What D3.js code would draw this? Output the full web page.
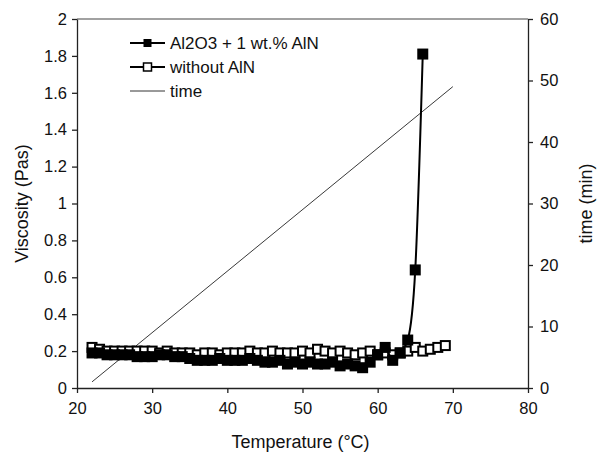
<!DOCTYPE html>
<html>
<head>
<meta charset="utf-8">
<script src="https://cdn.jsdelivr.net/npm/d3@7"></script>
<style>
	body { margin: 0; background: #fff; }
	text { font-family: 'Liberation Sans', Arial, sans-serif; fill: #111; }
	.axis path, .axis line { stroke: #222; stroke-width: 1.3; }
	.axis text { font-size: 16.5px; }
</style>
</head>
<body>
<div id="root"></div>
<script>
// Al2O3 + 1 wt.% AlN (filled squares)
const tempAlN	= [22, 23, 24, 25, 26, 27, 28, 29, 30, 31, 32, 33, 34, 35, 36, 37, 38, 39, 40, 41, 42, 43, 44, 45, 46, 47, 48, 49, 50, 51, 52, 53, 54, 55, 56, 57, 58, 59, 60, 61, 62, 63, 64, 65, 66];
const viscAlN	= [0.19, 0.19, 0.18, 0.18, 0.18, 0.18, 0.17, 0.17, 0.17, 0.18, 0.18, 0.17, 0.17, 0.16, 0.15, 0.15, 0.15, 0.16, 0.15, 0.15, 0.15, 0.16, 0.15, 0.14, 0.14, 0.15, 0.13, 0.14, 0.13, 0.14, 0.13, 0.13, 0.14, 0.12, 0.13, 0.12, 0.11, 0.14, 0.18, 0.22, 0.15, 0.19, 0.26, 0.64, 1.81];

// without AlN (open squares)
const tempPure	= [22, 23, 24, 25, 26, 27, 28, 29, 30, 31, 32, 33, 34, 35, 36, 37, 38, 39, 40, 41, 42, 43, 44, 45, 46, 47, 48, 49, 50, 51, 52, 53, 54, 55, 56, 57, 58, 59, 60, 61, 62, 63, 64, 65, 66, 67, 68, 69];
const viscPure	= [0.22, 0.21, 0.20, 0.20, 0.20, 0.20, 0.20, 0.20, 0.20, 0.19, 0.20, 0.19, 0.19, 0.19, 0.18, 0.19, 0.19, 0.18, 0.19, 0.19, 0.19, 0.20, 0.19, 0.19, 0.20, 0.19, 0.19, 0.19, 0.20, 0.19, 0.21, 0.20, 0.19, 0.20, 0.19, 0.18, 0.19, 0.20, 0.18, 0.19, 0.18, 0.19, 0.20, 0.22, 0.20, 0.21, 0.22, 0.23];

// time (right axis)
const tempTime	= [22, 70];
const timeMin	= [1, 49];

const xTicks	= [20, 30, 40, 50, 60, 70, 80];
const yTicks	= [0, 0.2, 0.4, 0.6, 0.8, 1, 1.2, 1.4, 1.6, 1.8, 2];
const y2Ticks	= [0, 10, 20, 30, 40, 50, 60];

const lgnd_val	= [
	{ type: 'filled', text: 'Al2O3 + 1 wt.% AlN' },
	{ type: 'open', text: 'without AlN' },
	{ type: 'line', text: 'time' },
];

const canvasWidth	= 603;
const canvasHeight	= 454;
const margin		= { top: 19, right: 75, bottom: 66, left: 77 };
const width			= canvasWidth - margin.left - margin.right;
const height		= canvasHeight - margin.top - margin.bottom;
const box			= 11;

const svg	= d3.select('#root').append('svg')
	.attr('width', canvasWidth)
	.attr('height', canvasHeight)
	.append('g')
		.attr('transform', 'translate(' + margin.left + ',' + margin.top + ')');

const x		= d3.scaleLinear().domain([20, 80]).range([0, width]);
const y		= d3.scaleLinear().domain([0, 2]).range([height, 0]);
const y2	= d3.scaleLinear().domain([0, 60]).range([height, 0]);

// frame: top line
svg.append('line')
	.attr('x1', 0).attr('x2', width).attr('y1', 0).attr('y2', 0)
	.attr('stroke', '#444').attr('stroke-width', 1.2);

svg.append('g').attr('class', 'axis')
	.attr('transform', 'translate(0,' + height + ')')
	.call(d3.axisBottom(x).tickValues(xTicks).tickSize(5).tickSizeOuter(0).tickPadding(9));

svg.append('g').attr('class', 'axis')
	.call(d3.axisLeft(y).tickValues(yTicks).tickSize(5).tickSizeOuter(0).tickPadding(5).tickFormat(d3.format('~g')));

svg.append('g').attr('class', 'axis')
	.attr('transform', 'translate(' + width + ',0)')
	.call(d3.axisRight(y2).tickValues(y2Ticks).tickSize(5).tickSizeOuter(0).tickPadding(7));

svg.selectAll('.axis .domain').attr('stroke', '#222');

// axis titles
svg.append('text')
	.attr('x', width / 2 - 2)
	.attr('y', height + 60)
	.attr('text-anchor', 'middle')
	.style('font-size', '18px')
	.text('Temperature (°C)');

svg.append('text')
	.attr('transform', 'translate(' + (-49) + ',' + (height / 2) + ') rotate(-90)')
	.attr('text-anchor', 'middle')
	.style('font-size', '18px')
	.text('Viscosity (Pas)');

svg.append('text')
	.attr('transform', 'translate(' + (width + 64) + ',' + (height / 2) + ') rotate(-90)')
	.attr('text-anchor', 'middle')
	.style('font-size', '18px')
	.text('time (min)');

// time line
const timeLine	= d3.line().x((d) => x(d[0])).y((d) => y2(d[1]));
svg.append('path')
	.datum(d3.zip(tempTime, timeMin))
	.attr('d', timeLine)
	.attr('fill', 'none')
	.attr('stroke', '#222')
	.attr('stroke-width', 0.9);

const viscLine	= d3.line().x((d) => x(d[0])).y((d) => y(d[1])).curve(d3.curveMonotoneX);

// without AlN
const pure	= d3.zip(tempPure, viscPure);
svg.append('path')
	.datum(pure)
	.attr('d', viscLine)
	.attr('fill', 'none')
	.attr('stroke', '#000')
	.attr('stroke-width', 1);

svg.selectAll('.open')
	.data(pure).enter().append('rect')
	.attr('class', 'open')
	.attr('x', (d) => x(d[0]) - box / 2 + 1)
	.attr('y', (d) => y(d[1]) - box / 2 + 1)
	.attr('width', box - 2)
	.attr('height', box - 2)
	.attr('fill', '#fff')
	.attr('stroke', '#000')
	.attr('stroke-width', 2);

// with AlN
const alN	= d3.zip(tempAlN, viscAlN);
svg.append('path')
	.datum(alN)
	.attr('d', viscLine)
	.attr('fill', 'none')
	.attr('stroke', '#000')
	.attr('stroke-width', 2);

svg.selectAll('.filled')
	.data(alN).enter().append('rect')
	.attr('class', 'filled')
	.attr('x', (d) => x(d[0]) - box / 2)
	.attr('y', (d) => y(d[1]) - box / 2)
	.attr('width', box)
	.attr('height', box)
	.attr('fill', '#000');

// legend
const legends	= svg.append('g')
	.attr('transform', 'translate(53,24)')
	.selectAll('.legend').data(lgnd_val).enter().append('g')
		.attr('class', 'legend')
		.attr('transform', (o, i) => ('translate(0,' + (i * 24) + ')'));

legends.append('line')
	.attr('x1', 0).attr('x2', 35).attr('y1', 0).attr('y2', 0)
	.attr('stroke', '#000')
	.attr('stroke-width', (o) => (o.type == 'line' ? 0.8 : 2));

legends.filter((o) => o.type != 'line').append('rect')
	.attr('x', 13.5)
	.attr('y', -4)
	.attr('width', 8)
	.attr('height', 8)
	.attr('fill', (o) => (o.type == 'filled' ? '#000' : '#fff'))
	.attr('stroke', '#000')
	.attr('stroke-width', (o) => (o.type == 'filled' ? 0 : 1.5));

legends.append('text')
	.attr('x', 40)
	.attr('y', 0)
	.attr('dy', '0.35em')
	.style('font-size', '17px')
	.text((o) => o.text);
</script>
</body>
</html>
